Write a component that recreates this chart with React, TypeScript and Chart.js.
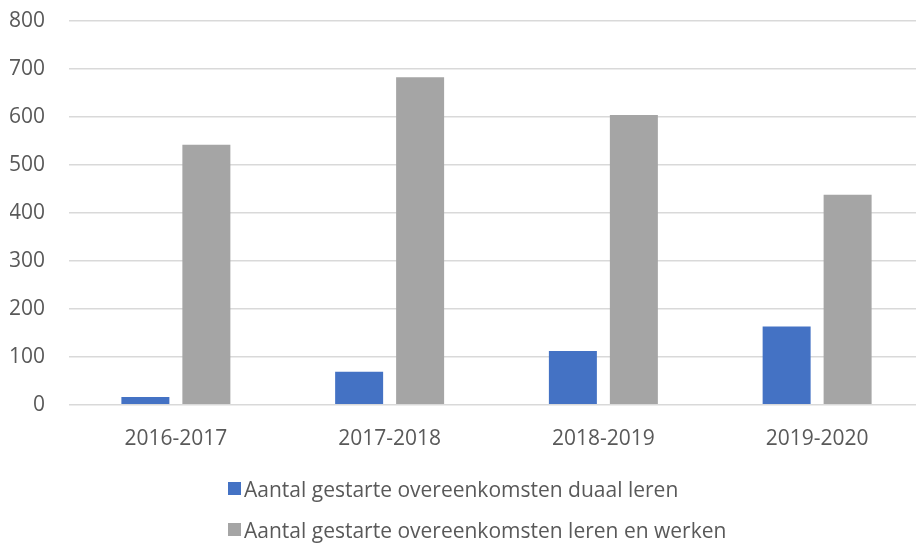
import React, { useEffect, useRef } from "react";
import { Chart, registerables } from "chart.js";
Chart.register(...registerables);

const categories = ["2016-2017", "2017-2018", "2018-2019", "2019-2020"];
const duaalLeren = [16, 69, 112, 163];
const lerenEnWerken = [542, 683, 604, 438];
const seriesNames = [
  "Aantal gestarte overeenkomsten duaal leren",
  "Aantal gestarte overeenkomsten leren en werken",
];
const seriesColors = ["#4472C4", "#A5A5A5"];
const yMin = 0;
const yMax = 800;
const yStep = 100;

const FONT = "'Open Sans', 'Noto Sans', sans-serif";
const TEXT = "#595959";

export default function App() {
  const ref = useRef<HTMLCanvasElement | null>(null);
  useEffect(() => {
    if (!ref.current) return;
    const chart = new Chart(ref.current, {
      type: "bar",
      data: {
        labels: categories,
        datasets: [
          {
            label: seriesNames[0],
            data: duaalLeren,
            backgroundColor: seriesColors[0],
            categoryPercentage: 0.5706,
            barPercentage: 0.787,
          },
          {
            label: seriesNames[1],
            data: lerenEnWerken,
            backgroundColor: seriesColors[1],
            categoryPercentage: 0.5706,
            barPercentage: 0.787,
          },
        ],
      },
      options: {
        animation: false,
        responsive: false,
        maintainAspectRatio: false,
        layout: { padding: { left: 10, top: 21, right: 0, bottom: 70 } },
        plugins: {
          legend: { display: false },
          tooltip: { enabled: false },
        },
        scales: {
          x: {
            grid: { display: false, drawTicks: false },
            border: { display: false },
            ticks: { color: TEXT, font: { family: FONT, size: 21 }, padding: 22 },
          },
          y: {
            min: yMin,
            max: yMax,
            grid: { color: "#D9D9D9", lineWidth: 1.5, drawTicks: false },
            border: { display: false },
            ticks: {
              stepSize: yStep,
              color: TEXT,
              font: { family: FONT, size: 21 },
              padding: 24,
            },
            afterFit: (s: any) => {
              s.width = 59;
              s.paddingTop = 0;
              s.paddingBottom = 0;
            },
          },
        },
      },
    });
    return () => chart.destroy();
  }, []);

  return (
    <div
      style={{
        position: "fixed",
        left: 0,
        top: 0,
        width: 916,
        height: 544,
        background: "#fff",
        overflow: "hidden",
      }}
    >
      <canvas ref={ref} width={924} height={544} style={{ position: "absolute", left: 0, top: 0 }} />
      <div
        style={{
          position: "absolute",
          left: 228,
          top: 468,
          fontFamily: FONT,
          fontSize: 21,
          color: TEXT,
        }}
      >
        {seriesNames.map((n, i) => (
          <div key={n} style={{ display: "flex", alignItems: "center", height: 41, whiteSpace: "nowrap" }}>
            <span
              style={{
                display: "inline-block",
                width: 13,
                height: 13,
                background: seriesColors[i],
                marginRight: 3,
              }}
            />
            <span>{n}</span>
          </div>
        ))}
      </div>
    </div>
  );
}
